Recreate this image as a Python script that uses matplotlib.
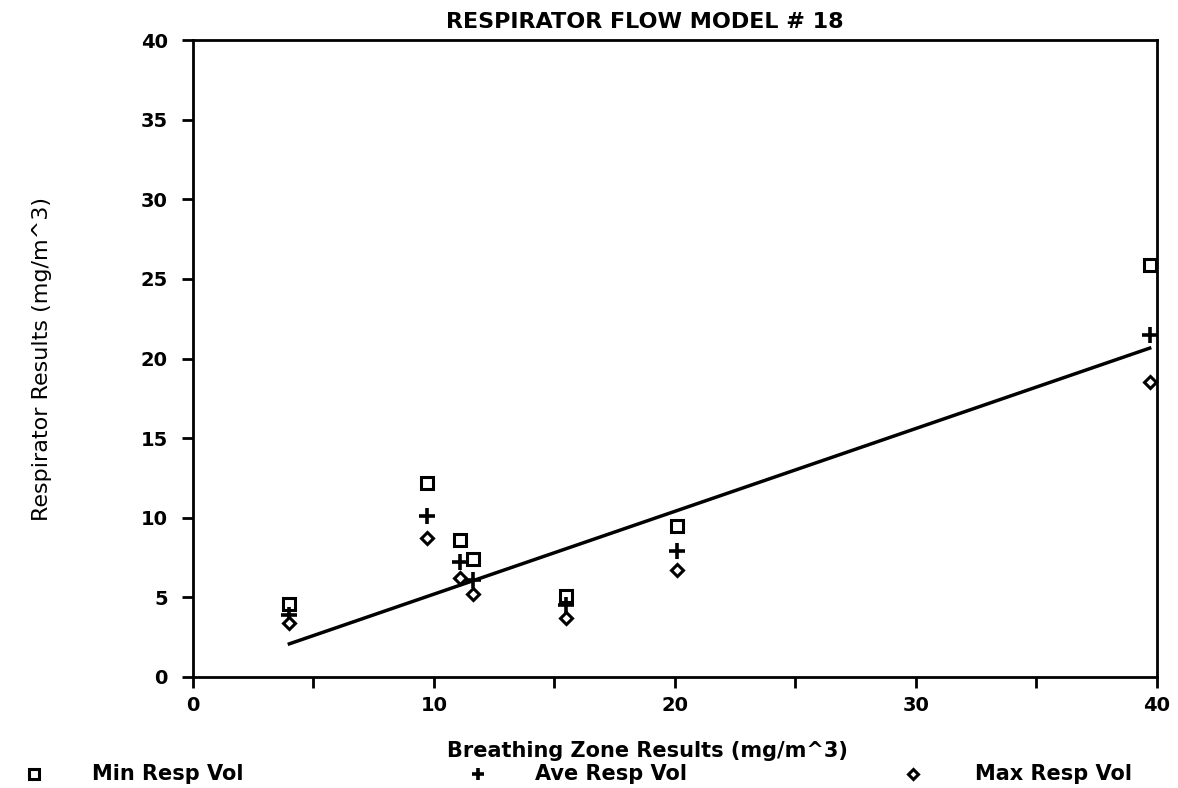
import numpy as np
import matplotlib.pyplot as plt
from matplotlib.lines import Line2D

# Data
bz = np.array([4.0, 9.7, 11.1, 11.6, 15.5, 20.1, 39.7])       # breathing zone results
min_resp = np.array([4.6, 12.2, 8.6, 7.4, 5.1, 9.5, 25.9])
ave_resp = np.array([3.9, 10.1, 7.2, 6.1, 4.5, 7.9, 21.5])
max_resp = np.array([3.4, 8.7, 6.2, 5.2, 3.7, 6.7, 18.5])

# regression line through origin on average values
slope = np.sum(bz * ave_resp) / np.sum(bz * bz)
fit_x = np.array([bz.min(), bz.max()])
fit_y = slope * fit_x

plt.rcParams['font.family'] = ['DejaVu Sans']

fig = plt.figure(figsize=(11.78, 7.88), dpi=100)
ax = fig.add_axes([0.1638, 0.1409, 0.8183, 0.8083])

mk = dict(linestyle='none', color='black', markerfacecolor='white', clip_on=False)
ax.plot(bz, min_resp, marker='s', markersize=8, markeredgewidth=2.2, **mk)
ax.plot(bz, ave_resp, marker='+', markersize=11, markeredgewidth=2.6, **mk)
ax.plot(bz, max_resp, marker='D', markersize=6.5, markeredgewidth=2.2, **mk)
ax.plot(fit_x, fit_y, color='black', linewidth=2.5)

ax.set_xlim(0, 40)
ax.set_ylim(0, 40)
ax.set_xticks([0, 10, 20, 30, 40])
ax.set_xticks([5, 15, 25, 35], minor=True)
ax.set_yticks(np.arange(0, 41, 5))
ax.tick_params(axis='both', which='both', direction='out', width=2, length=8,
               labelsize=14)
ax.tick_params(axis='y', pad=10)
ax.tick_params(axis='x', pad=6)
for lbl in ax.get_xticklabels() + ax.get_yticklabels():
    lbl.set_fontweight('bold')
for sp in ax.spines.values():
    sp.set_linewidth(2)

ax.set_xlabel('Breathing Zone Results (mg/m^3)', fontsize=15, fontweight='bold',
              va='center')
ax.xaxis.set_label_coords(0.471, -0.116)
ax.set_ylabel('Respirator Results (mg/m^3)', fontsize=16, va='center')
ax.yaxis.set_label_coords(-0.157, 0.5)

fig.text(0.5475, 0.972, 'RESPIRATOR FLOW MODEL # 18', ha='center', va='center',
         fontsize=16, fontweight='bold')

# legend along the bottom
legend_items = [('s', 'Min Resp Vol', 0.029, 0.078, 6.5, 2.2),
                ('+', 'Ave Resp Vol', 0.406, 0.454, 9, 2.6),
                ('D', 'Max Resp Vol', 0.775, 0.828, 5, 2.2)]
for m, name, mx, tx, ms, mew in legend_items:
    fig.add_artist(Line2D([mx], [0.018], marker=m, markersize=ms, markeredgewidth=mew,
                          color='black', markerfacecolor='white', linestyle='none',
                          transform=fig.transFigure))
    fig.text(tx, 0.018, name, ha='left', va='center', fontsize=15, fontweight='bold')

fig.savefig('out.png', dpi=100)
